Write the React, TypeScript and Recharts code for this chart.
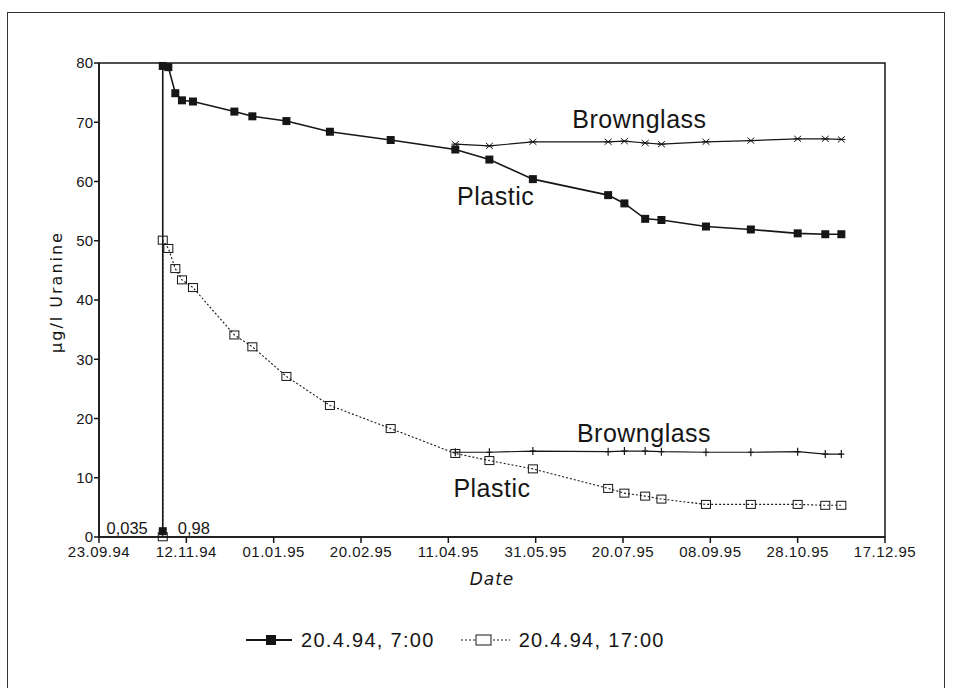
import React from "react";
import {
  LineChart,
  Line,
  XAxis,
  YAxis,
  ReferenceArea,
  ReferenceDot,
  Legend,
} from "recharts";

// x axis: days after 23.09.94, one tick every 50 days
const tickDays = [0, 50, 100, 150, 200, 250, 300, 350, 400, 450];
const tickDates = [
  "23.09.94",
  "12.11.94",
  "01.01.95",
  "20.02.95",
  "11.04.95",
  "31.05.95",
  "20.07.95",
  "08.09.95",
  "28.10.95",
  "17.12.95",
];
const valueTicks = [0, 10, 20, 30, 40, 50, 60, 70, 80];

// first measurement, before the jump
const startDay = 36.5;
const plastic7Start = 0.98;
const plastic17Start = 0.035;

const sampleDays = [
  36.5, 39.7, 43.7, 47.5, 53.8, 77.5, 87.8, 107.3, 132.2, 167, 204, 223.5,
  248.4, 291.5, 300.8, 312.7, 322, 347.5, 373.2, 400, 415.8, 425,
];
const plastic7 = [
  79.5, 79.3, 74.9, 73.7, 73.5, 71.8, 71.0, 70.2, 68.4, 67.0, 65.4, 63.7, 60.4,
  57.7, 56.3, 53.7, 53.5, 52.4, 51.9, 51.25, 51.1, 51.1,
];
const plastic17 = [
  50.1, 48.7, 45.3, 43.4, 42.1, 34.1, 32.1, 27.1, 22.2, 18.3, 14.1, 12.9, 11.5,
  8.2, 7.4, 6.9, 6.4, 5.5, 5.5, 5.5, 5.35, 5.35,
];

const glassDays = [
  204, 223.5, 248.4, 291.5, 300.8, 312.7, 322, 347.5, 373.2, 400, 415.8, 425,
];
const brown7 = [66.3, 66.0, 66.7, 66.7, 66.8, 66.5, 66.3, 66.7, 66.9, 67.2, 67.2, 67.1];
const brown17 = [14.3, 14.3, 14.5, 14.4, 14.5, 14.5, 14.4, 14.3, 14.3, 14.4, 14.0, 14.0];

const legendOrder = ["20.4.94, 7:00", "20.4.94, 17:00"];

const notes = [
  { text: "Brownglass", day: 271, value: 69.0 },
  { text: "Plastic", day: 205, value: 56.0 },
  { text: "Brownglass", day: 273.6, value: 16.1 },
  { text: "Plastic", day: 202.9, value: 6.7 },
];

const INK = "#161616";
const SANS = "'Liberation Sans', Arial, sans-serif";
const LIGHT = "'DejaVu Sans', sans-serif";

const toPoints = (days: number[], values: number[]) =>
  days.map((day, i) => ({ day, v: values[i] }));

const plastic7Data = [{ day: startDay, v: plastic7Start }, ...toPoints(sampleDays, plastic7)];
const plastic17Data = [{ day: startDay, v: plastic17Start }, ...toPoints(sampleDays, plastic17)];
const brown7Data = toPoints(glassDays, brown7);
const brown17Data = toPoints(glassDays, brown17);

const filledSquare = (p: any) => (
  <rect key={`fs${p.index}`} x={p.cx - 4} y={p.cy - 4} width={8} height={8} fill={INK} />
);
const openSquare = (p: any) => (
  <rect
    key={`os${p.index}`}
    x={p.cx - 4.5}
    y={p.cy - 4}
    width={9}
    height={8}
    fill="none"
    stroke={INK}
    strokeWidth={1}
  />
);
const asterisk = (p: any) => (
  <path
    key={`as${p.index}`}
    d={`M${p.cx - 4},${p.cy}h8M${p.cx - 3.5},${p.cy - 3}l7,6M${p.cx - 3.5},${p.cy + 3}l7,-6`}
    stroke={INK}
    strokeWidth={1}
    fill="none"
  />
);
const plus = (p: any) => (
  <path
    key={`pl${p.index}`}
    d={`M${p.cx},${p.cy - 4}v8M${p.cx - 3},${p.cy}h6`}
    stroke={INK}
    strokeWidth={1.2}
    fill="none"
  />
);

const LegendIcon = ({ name }: { name: string }) =>
  name === "20.4.94, 7:00" ? (
    <svg width={46} height={14}>
      <line x1={0} y1={7} x2={46} y2={7} stroke={INK} strokeWidth={2} />
      <rect x={20} y={2} width={10} height={10} fill={INK} />
    </svg>
  ) : (
    <svg width={49} height={14}>
      <line x1={0} y1={7} x2={49} y2={7} stroke={INK} strokeWidth={1} strokeDasharray="2 2" />
      <rect x={15} y={2} width={15} height={10} fill="#fff" stroke={INK} strokeWidth={1} />
    </svg>
  );

const renderLegend = (props: any) => (
  <div style={{ display: "flex", alignItems: "center", gap: 26 }}>
    {(props.payload || [])
      .filter((e: any) => e.type !== "none" && legendOrder.includes(e.value))
      .sort((a: any, b: any) => legendOrder.indexOf(a.value) - legendOrder.indexOf(b.value))
      .map((e: any) => (
        <div key={e.value} style={{ display: "flex", alignItems: "center", gap: 9 }}>
          <LegendIcon name={e.value} />
          <span
            style={{ fontFamily: SANS, fontSize: 20, letterSpacing: 1.3, color: INK, lineHeight: "24px" }}
          >
            {e.value}
          </span>
        </div>
      ))}
  </div>
);

export default function App() {
  return (
    <div
      style={{
        position: "absolute",
        left: 0,
        top: 0,
        width: 953,
        height: 688,
        overflow: "hidden",
        background: "#fff",
      }}
    >
      <div
        style={{
          position: "absolute",
          left: 7,
          top: 12,
          width: 936,
          height: 720,
          border: "1.5px solid #333",
        }}
      />
      <div style={{ position: "absolute", left: 0, top: 0 }}>
        <LineChart
          width={953}
          height={688}
          margin={{ top: 63, right: 68, left: 59, bottom: 121 }}
        >
          <ReferenceArea
            x1={0}
            x2={450}
            y1={0}
            y2={80}
            fill="none"
            stroke={INK}
            strokeWidth={1.5}
          />
          <XAxis
            dataKey="day"
            type="number"
            domain={[0, 450]}
            ticks={tickDays}
            tickFormatter={(d: number) => tickDates[tickDays.indexOf(d)]}
            height={30}
            tickSize={6}
            tickMargin={3}
            stroke={INK}
            strokeWidth={1.5}
            tick={{ fill: INK, fontSize: 15, fontFamily: SANS, letterSpacing: 0.5 }}
            label={{
              content: (lp: any) => (
                <text
                  x={lp.viewBox.x + lp.viewBox.width / 2}
                  y={lp.viewBox.y + 48}
                  textAnchor="middle"
                  fontFamily={LIGHT}
                  fontStyle="italic"
                  fontSize={17}
                  letterSpacing={1}
                  fill={INK}
                >
                  Date
                </text>
              ),
            }}
          />
          <YAxis
            type="number"
            domain={[0, 80]}
            ticks={valueTicks}
            width={40}
            tickSize={5}
            tickMargin={1}
            stroke={INK}
            strokeWidth={1.5}
            tick={{ fill: INK, fontSize: 15, fontFamily: SANS }}
            label={{
              content: (lp: any) => {
                const x = lp.viewBox.x - 3;
                const y = lp.viewBox.y + lp.viewBox.height / 2 - 8;
                return (
                  <text
                    x={x}
                    y={y}
                    transform={`rotate(-90, ${x}, ${y})`}
                    textAnchor="middle"
                    dominantBaseline="central"
                    fontFamily={LIGHT}
                    fontSize={16}
                    letterSpacing={2}
                    fill={INK}
                  >
                    µg/l Uranine
                  </text>
                );
              },
            }}
          />
          <Line
            data={plastic17Data}
            dataKey="v"
            name="20.4.94, 17:00"
            type="linear"
            stroke={INK}
            strokeWidth={1.1}
            strokeDasharray="2 2"
            dot={openSquare}
            activeDot={false}
            isAnimationActive={false}
          />
          <Line
            data={brown17Data}
            dataKey="v"
            name="brown17"
            legendType="none"
            type="linear"
            stroke={INK}
            strokeWidth={1.2}
            dot={plus}
            activeDot={false}
            isAnimationActive={false}
          />
          <Line
            data={brown7Data}
            dataKey="v"
            name="brown7"
            legendType="none"
            type="linear"
            stroke={INK}
            strokeWidth={1.2}
            dot={asterisk}
            activeDot={false}
            isAnimationActive={false}
          />
          <Line
            data={plastic7Data}
            dataKey="v"
            name="20.4.94, 7:00"
            type="linear"
            stroke={INK}
            strokeWidth={1.6}
            dot={filledSquare}
            activeDot={false}
            isAnimationActive={false}
          />
          {notes.map((n, i) => (
            <ReferenceDot
              key={`note${i}`}
              x={n.day}
              y={n.value}
              r={1}
              fill="none"
              stroke="none"
              label={{
                content: (lp: any) => (
                  <text
                    x={lp.viewBox.x + lp.viewBox.width / 2}
                    y={lp.viewBox.y + lp.viewBox.height / 2}
                    fontFamily={SANS}
                    fontSize={25}
                    letterSpacing={0.5}
                    fill={INK}
                  >
                    {n.text}
                  </text>
                ),
              }}
            />
          ))}
          <ReferenceDot
            x={startDay}
            y={plastic17Start}
            r={1}
            fill="none"
            stroke="none"
            label={{
              content: (lp: any) => (
                <text
                  x={lp.viewBox.x - 14}
                  y={lp.viewBox.y - 2}
                  textAnchor="end"
                  fontFamily={SANS}
                  fontSize={16.5}
                  fill={INK}
                >
                  0,035
                </text>
              ),
            }}
          />
          <ReferenceDot
            x={startDay}
            y={plastic7Start}
            r={1}
            fill="none"
            stroke="none"
            label={{
              content: (lp: any) => (
                <text
                  x={lp.viewBox.x + 16}
                  y={lp.viewBox.y + 3.5}
                  fontFamily={SANS}
                  fontSize={16.5}
                  fill={INK}
                >
                  0,98
                </text>
              ),
            }}
          />
          <Legend
            layout="horizontal"
            verticalAlign="middle"
            content={renderLegend}
            wrapperStyle={{ top: 628, left: 246, width: "auto" }}
          />
        </LineChart>
      </div>
    </div>
  );
}
